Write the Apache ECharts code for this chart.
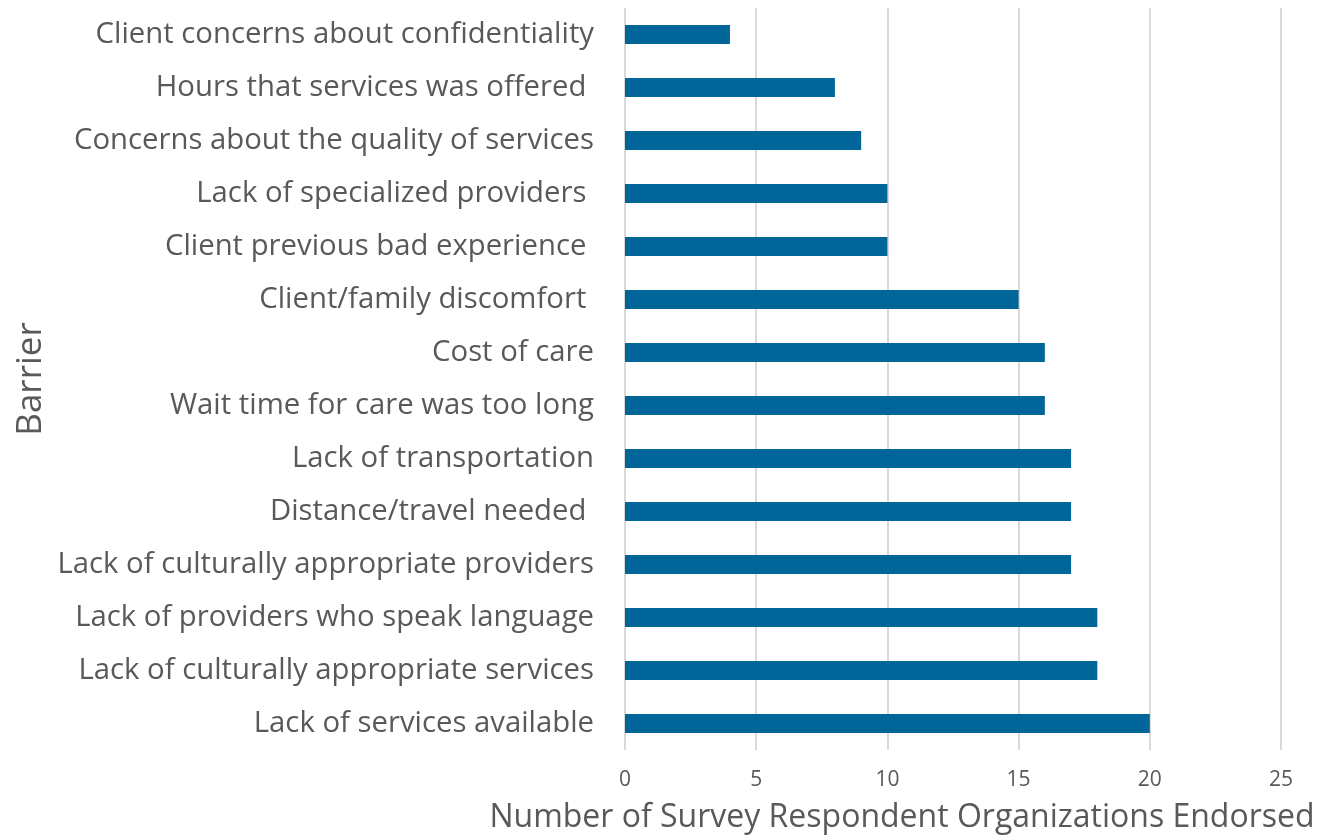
<!DOCTYPE html>
<html>
<head>
<meta charset="utf-8">
<script src="https://cdn.jsdelivr.net/npm/echarts@6/dist/echarts.min.js"></script>
<style>
  html, body { margin: 0; padding: 0; background: #ffffff; }
  #chart { width: 1327px; height: 836px; }
</style>
</head>
<body>
<div id="chart"></div>
<script>
// Barriers listed top to bottom as they appear in the chart
const barriers = [
  'Client concerns about confidentiality',
  'Hours that services was offered ',
  'Concerns about the quality of services',
  'Lack of specialized providers ',
  'Client previous bad experience ',
  'Client/family discomfort ',
  'Cost of care',
  'Wait time for care was too long',
  'Lack of transportation',
  'Distance/travel needed ',
  'Lack of culturally appropriate providers',
  'Lack of providers who speak language',
  'Lack of culturally appropriate services',
  'Lack of services available'
];
const endorsedCounts = [4, 8, 9, 10, 10, 15, 16, 16, 17, 17, 17, 18, 18, 20];
const xTicks = [0, 5, 10, 15, 20, 25];

const chart = echarts.init(document.getElementById('chart'));
const textColor = '#595959';
const fontFamily = '"Open Sans", "Noto Sans", sans-serif';

chart.setOption({
  animation: false,
  textStyle: { fontFamily: fontFamily },
  grid: { left: 625, right: 46, top: 8, bottom: 86, containLabel: false, outerBoundsMode: 'none' },
  xAxis: {
    type: 'value',
    min: xTicks[0],
    max: xTicks[xTicks.length - 1],
    interval: xTicks[1] - xTicks[0],
    name: 'Number of Survey Respondent Organizations Endorsed',
    nameLocation: 'middle',
    nameGap: 52,
    // right padding nudges the centred title towards the left
    nameTextStyle: { color: textColor, fontSize: 32, fontFamily: fontFamily, padding: [0, 102, 0, 0] },
    axisLine: { show: false },
    axisTick: { show: false },
    axisLabel: { color: textColor, fontSize: 21, margin: 20, fontFamily: fontFamily },
    splitLine: { show: true, lineStyle: { color: '#d9d9d9', width: 2 } }
  },
  yAxis: {
    type: 'category',
    data: barriers,
    inverse: true,
    name: 'Barrier',
    nameLocation: 'middle',
    nameGap: 576,
    nameRotate: 90,
    nameTextStyle: { color: textColor, fontSize: 35, fontFamily: fontFamily },
    axisLine: { show: false },
    axisTick: { show: false },
    axisLabel: { color: textColor, fontSize: 29.3, margin: 31, fontFamily: fontFamily },
    splitLine: { show: false }
  },
  series: [{
    type: 'bar',
    data: endorsedCounts,
    barWidth: 19,
    itemStyle: { color: '#006699' }
  }]
});
</script>
</body>
</html>
